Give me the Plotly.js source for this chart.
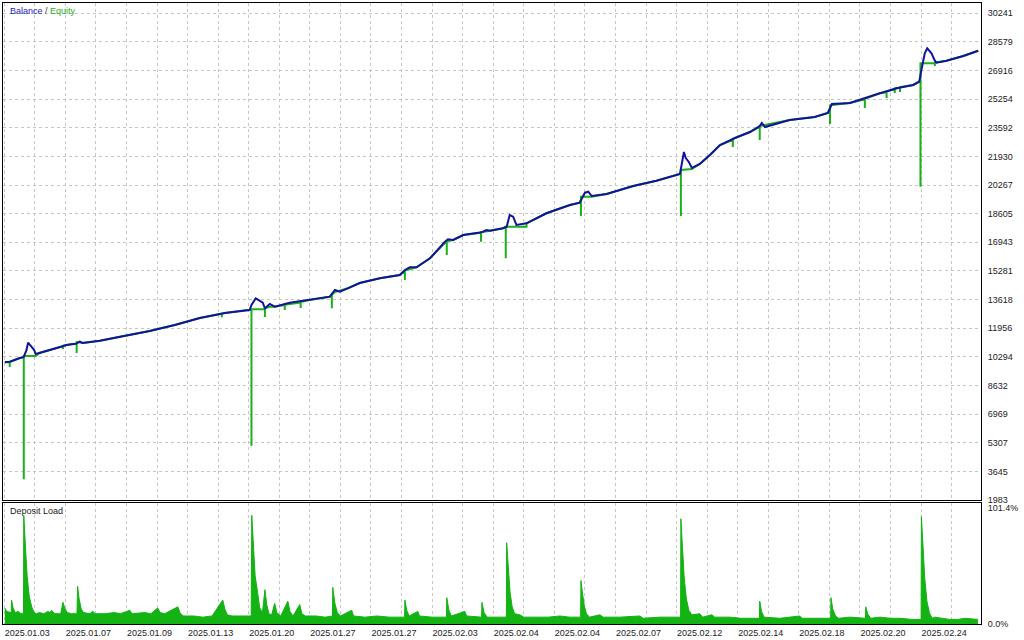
<!DOCTYPE html>
<html><head><meta charset="utf-8">
<script src="https://cdn.plot.ly/plotly-3.0.1.min.js"></script>
<style>html,body{margin:0;padding:0;background:#fff;} #chart{width:1024px;height:640px;}</style>
</head><body><div id="chart"></div>
<script>
// x = sample index along the test (10 units per grid column)
const balX = [0.2,1.8,5.1,6.4,7.3,7.8,8.9,9.8,10.3,11.6,14.9,20.4,23.4,24.7,25.7,31.3,37.8,47.6,55.8,64.0,72.2,80.3,80.9,82.3,84.6,85.3,86.9,88.5,93.4,100.0,106.5,108.2,109.8,112.4,116.3,122.9,129.4,131.1,132.7,134.9,139.3,144.2,145.2,146.9,150.2,156.2,157.8,158.9,163.2,164.4,165.4,166.5,167.6,170.9,177.4,185.1,188.3,190.0,191.1,192.2,197.1,205.8,213.4,221.1,222.4,223.0,224.0,225.0,227.6,230.9,234.2,239.1,244.0,247.2,247.9,248.9,257.0,265.2,269.5,270.8,276.7,286.5,292.0,297.4,299.4,300.1,301.2,302.0,303.4,304.5,305.0,308.3,313.8,318.7];
const balance = [9995,10010,10228,10286,10692,11116,10884,10692,10460,10518,10692,10982,11050,11174,11098,11232,11464,11795,12144,12550,12840,13014,13305,13694,13438,13113,13363,13206,13438,13595,13787,14176,14077,14274,14582,14855,15047,15337,15494,15494,16016,16980,17119,17079,17369,17526,17659,17619,17758,17851,18530,18431,17950,18048,18629,19111,19244,19825,19883,19633,19749,20214,20522,20911,22188,21840,21607,21259,21491,22014,22594,23001,23349,23697,23872,23639,24046,24220,24452,24975,25033,25596,25886,26078,26270,26949,27918,28209,27918,27489,27372,27489,27762,28069];

const eqX = [0.2,1.8,1.8,1.8,5.1,6.4,6.4,6.4,10.3,11.6,
14.9,19.2,19.2,19.2,20.4,23.7,23.7,23.7,25.7,31.3,
37.8,47.6,55.8,64.0,71.2,71.2,71.2,72.2,80.3,80.9,
80.9,80.9,85.3,85.3,85.3,86.9,88.5,91.8,91.8,91.8,
97.0,97.0,97.0,100.0,106.5,107.2,107.2,107.2,108.2,112.4,
116.3,122.9,129.4,131.1,131.1,131.1,134.9,139.3,144.2,144.8,
144.8,144.8,146.9,150.2,156.0,156.0,156.0,158.9,163.2,164.1,
164.1,164.1,170.9,170.9,177.4,185.1,188.3,188.7,188.7,188.7,
192.2,197.1,205.8,213.4,221.1,221.4,221.4,221.4,225.0,227.6,
230.9,234.2,238.4,238.4,238.4,244.0,247.2,247.2,247.2,257.0,
265.2,269.5,270.2,270.2,270.2,276.7,281.6,281.6,281.6,286.5,
288.7,288.7,288.7,291.4,291.4,291.4,293.1,293.1,293.1,297.4,
299.4,299.8,299.8,299.8,304.5,304.5,304.5,308.3,313.8,318.7];
const equity = [9960,9990,9705,9990,10228,10286,3185,10344,10344,10518,
10692,10900,10750,10930,10982,11100,10518,11150,11098,11232,
11464,11795,12144,12550,12800,12600,12810,12840,13014,13055,
5136,13055,13055,12608,13113,13200,13206,13300,13014,13320,
13450,13131,13480,13595,13787,13800,13113,13900,14050,14274,
14582,14855,15047,15250,14756,15300,15494,16016,16900,16980,
16208,17000,17079,17369,17500,16980,17526,17619,17758,17851,
16016,17851,17851,18048,18629,19111,19244,19420,18472,19593,
19593,19749,20214,20522,20911,21000,18472,21143,21200,21491,
22014,22594,22900,22478,22950,23349,23650,22885,23697,24046,
24220,24452,24700,23814,24900,25033,25250,24743,25280,25596,
25650,25323,25680,25850,25613,25880,25920,25671,25950,26078,
26270,26500,20173,27338,27338,27181,27372,27489,27762,28069];

const loadX = [0.2,0.8,2.3,2.4,2.9,3.6,4.5,5.5,6.3,6.4,
6.9,7.5,8.2,9.0,9.8,10.5,11.5,13.0,14.3,15.0,
15.5,16.5,18.5,19.2,19.8,20.6,22.0,23.8,24.0,24.5,
25.2,26.0,28.0,29.0,29.8,33.0,36.0,38.0,41.1,41.8,
46.0,48.0,50.2,51.0,52.5,56.8,57.5,58.5,62.0,65.0,
68.0,71.5,72.2,73.0,74.5,78.0,80.8,81.0,81.5,82.1,
83.0,83.6,84.5,85.3,85.9,86.6,87.5,88.5,89.2,90.5,
92.8,93.5,94.5,96.7,97.4,98.5,102.0,105.0,107.4,107.5,
108.2,109.0,110.0,113.7,114.3,118.0,122.0,126.0,131.0,131.1,
131.7,132.5,135.3,135.9,140.0,144.7,144.8,145.5,146.3,150.7,
151.3,156.2,156.3,157.0,158.0,164.3,164.4,164.9,165.5,166.2,
167.0,168.7,170.0,175.2,178.0,181.8,185.0,188.6,188.7,189.2,
189.8,190.5,191.5,194.9,196.0,201.4,208.0,209.0,214.6,221.3,
221.4,221.9,222.5,223.2,224.0,225.0,227.6,228.5,231.5,232.5,
237.4,241.0,247.1,247.2,247.8,248.6,253.8,260.3,261.0,266.0,
270.4,270.5,271.1,272.0,273.0,276.7,281.8,281.9,282.5,283.5,
286.5,290.0,293.1,297.0,300.0,300.1,300.6,301.2,301.9,302.7,
303.6,304.5,309.4,312.0,314.3,318.6];
const depositLoad = [14,11,10,21,14,10,11,9,9,95,
70,42,24,15,10,9,10,9,11,10,
12,9,9,19,14,10,9,9,33,22,
13,10,9,11,9,9,10,9,12,9,
10,9,14,10,9,15,10,7,7,6,
7,21,13,8,7,7,7,95,70,42,
26,14,10,30,17,9,8,18,10,7,
20,11,7,17,9,7,7,6,7,32,
18,10,7,12,7,6,7,6,6,21,
12,7,11,7,6,6,23,12,7,11,
7,6,19,10,6,6,71,50,28,15,
9,8,6,6,6,7,6,6,38,27,
16,9,6,8,6,6,7,5,6,6,
92,68,40,22,12,8,9,6,8,6,
6,5,5,20,11,6,5,7,5,5,
5,23,13,7,5,6,5,15,9,5,
6,5,5,4,4,94,70,40,20,10,
5,6,4,4,5,4];

const dateTickX = [0,20,40,60,80,100,120,140,160,180,200,220,240,260,280,300];
const dateLabels = ['2025.01.03','2025.01.07','2025.01.09','2025.01.13','2025.01.20','2025.01.27','2025.01.27','2025.02.03','2025.02.04','2025.02.04','2025.02.07','2025.02.12','2025.02.14','2025.02.18','2025.02.20','2025.02.24'];
const yTickVals = [1983,3645,5307,6969,8632,10294,11956,13618,15281,16943,18605,20267,21930,23592,25254,26916,28579,30241];
const loadTickVals = [0,101.4];
const loadTickText = ['0.0%','101.4%'];

const gridStyle = {gridcolor:'#c6c6c6', griddash:'3px,3px', gridwidth:1};
const frame = {showline:true, mirror:true, linecolor:'#000', linewidth:1, zeroline:false};

const traces = [
  {x:eqX, y:equity, type:'scatter', mode:'lines', line:{color:'#19b019', width:2}, xaxis:'x', yaxis:'y', name:'Equity'},
  {x:balX, y:balance, type:'scatter', mode:'lines', line:{color:'#12129e', width:2}, xaxis:'x', yaxis:'y', name:'Balance'},
  {x:loadX, y:depositLoad, type:'scatter', mode:'lines', fill:'tozeroy', fillcolor:'#13b313', line:{color:'#13b313', width:1}, xaxis:'x2', yaxis:'y2', name:'Deposit Load'}
];

const layout = {
  width:1024, height:640,
  margin:{l:3, r:43, t:3, b:16},
  paper_bgcolor:'#fff', plot_bgcolor:'#fff',
  showlegend:false,
  font:{family:'Liberation Sans, Arial, sans-serif', size:9, color:'#222'},
  xaxis:Object.assign({range:[-0.4,319.6], anchor:'y', tick0:0, dtick:10, showticklabels:false, ticks:'', showgrid:true}, gridStyle, frame),
  yaxis:Object.assign({domain:[0.1997,1], range:[1983,30839], side:'right', tickmode:'array', tickvals:yTickVals, ticktext:yTickVals.map(String), ticks:'', showgrid:true, ticklabelstandoff:4}, gridStyle, frame),
  xaxis2:Object.assign({range:[-0.4,319.6], matches:'x', anchor:'y2', tickmode:'array', tickvals:dateTickX, ticktext:dateLabels, ticklabelposition:'outside right', ticks:'', showgrid:true, ticklabelstandoff:0,
    minor:Object.assign({tick0:0, dtick:10, showgrid:true, ticks:''}, gridStyle)}, gridStyle, frame),
  yaxis2:Object.assign({domain:[0,0.1948], range:[0,105.8], side:'right', tickmode:'array', tickvals:loadTickVals, ticktext:loadTickText, ticks:'', showgrid:false, ticklabelstandoff:4}, frame),
  annotations:[
    {xref:'paper', yref:'paper', x:0.005, y:0.987, xanchor:'left', yanchor:'middle', showarrow:false,
     text:'<span style="color:#2222b8">Balance</span><span style="color:#333"> / </span><span style="color:#1fb01f">Equity</span>', font:{size:9}},
    {xref:'paper', yref:'paper', x:0.005, y:0.182, xanchor:'left', yanchor:'middle', showarrow:false,
     text:'Deposit Load', font:{size:9, color:'#222'}}
  ]
};

Plotly.newPlot('chart', traces, layout, {staticPlot:true, displayModeBar:false});
</script>
</body></html>
